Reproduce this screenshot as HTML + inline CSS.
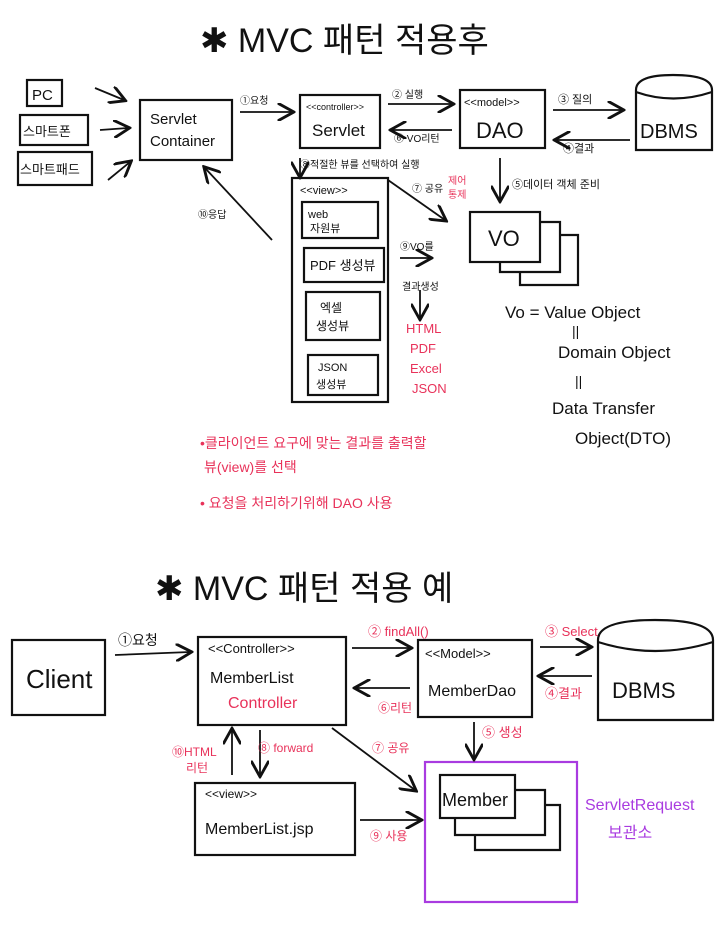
<!DOCTYPE html>
<html><head><meta charset="utf-8"><style>
html,body{margin:0;padding:0;background:#fff;}
svg{display:block;}
text{font-family:"Liberation Sans","Noto Sans CJK KR",sans-serif;fill:#111;}
.r{fill:#e8325a;}
.p{fill:#a93be0;}
</style></head><body>
<svg width="720" height="936" viewBox="0 0 720 936" xmlns="http://www.w3.org/2000/svg">
<defs><marker id="a" markerWidth="10" markerHeight="10" refX="8" refY="5" orient="auto"><path d="M0,0 L9,5 L0,10" fill="none" stroke="#111" stroke-width="1.6"/></marker></defs>
<g fill="none" stroke="#111" stroke-width="2.2">
<!-- top section boxes -->
<rect x="27" y="80" width="35" height="26"/>
<rect x="20" y="115" width="68" height="30"/>
<rect x="18" y="152" width="74" height="33"/>
<rect x="140" y="100" width="92" height="60"/>
<rect x="300" y="95" width="80" height="53"/>
<rect x="460" y="90" width="85" height="58"/>
<path d="M636,90 Q636,75 673,75 Q712,75 712,90 L712,150 L636,150 Z"/>
<path d="M636,92 Q673,105 712,92"/>
<rect x="292" y="178" width="96" height="224"/>
<rect x="302" y="202" width="76" height="36"/>
<rect x="304" y="248" width="80" height="34"/>
<rect x="306" y="292" width="74" height="48"/>
<rect x="308" y="355" width="70" height="40"/>
<path d="M500,262 L500,272 L560,272 L560,222 L540,222"/>
<path d="M520,272 L520,285 L578,285 L578,235 L560,235"/>
<rect x="470" y="212" width="70" height="50"/>
</g>
<g fill="none" stroke="#111" stroke-width="1.8" marker-end="url(#a)">
<line x1="95" y1="88" x2="124" y2="100"/>
<line x1="100" y1="130" x2="128" y2="128"/>
<line x1="108" y1="180" x2="130" y2="162"/>
<line x1="240" y1="112" x2="292" y2="112"/>
<line x1="388" y1="104" x2="452" y2="104"/>
<line x1="452" y1="130" x2="392" y2="130"/>
<line x1="553" y1="110" x2="622" y2="110"/>
<line x1="630" y1="140" x2="556" y2="140"/>
<line x1="300" y1="158" x2="300" y2="176"/>
<line x1="388" y1="180" x2="445" y2="220"/>
<line x1="500" y1="158" x2="500" y2="200"/>
<line x1="272" y1="240" x2="205" y2="168"/>
<line x1="400" y1="258" x2="430" y2="258"/>
<line x1="420" y1="290" x2="420" y2="318"/>
</g>
<text x="200" y="52" font-size="34">✱ MVC 패턴 적용후</text>
<text x="32" y="100" font-size="15">PC</text>
<text x="23" y="136" font-size="13">스마트폰</text>
<text x="20" y="174" font-size="13">스마트패드</text>
<text x="150" y="124" font-size="15">Servlet</text>
<text x="150" y="146" font-size="15">Container</text>
<text x="240" y="104" font-size="10">①요청</text>
<text x="306" y="110" font-size="9">&lt;&lt;controller&gt;&gt;</text>
<text x="312" y="136" font-size="17">Servlet</text>
<text x="392" y="98" font-size="10">② 실행</text>
<text x="394" y="142" font-size="10">⑥ VO리턴</text>
<text x="464" y="106" font-size="11">&lt;&lt;model&gt;&gt;</text>
<text x="476" y="138" font-size="22">DAO</text>
<text x="558" y="103" font-size="11">③ 질의</text>
<text x="563" y="152" font-size="11">④결과</text>
<text x="640" y="138" font-size="20">DBMS</text>
<text x="300" y="168" font-size="10">⑧적절한 뷰를 선택하여 실행</text>
<text x="448" y="184" font-size="10" class="r">제어</text>
<text x="448" y="198" font-size="10" class="r">통제</text>
<text x="412" y="192" font-size="10">⑦ 공유</text>
<text x="512" y="188" font-size="11">⑤데이터 객체 준비</text>
<text x="300" y="194" font-size="11">&lt;&lt;view&gt;&gt;</text>
<text x="308" y="218" font-size="11">web</text>
<text x="310" y="232" font-size="11">자원뷰</text>
<text x="310" y="270" font-size="13">PDF 생성뷰</text>
<text x="320" y="312" font-size="12">엑셀</text>
<text x="316" y="330" font-size="12">생성뷰</text>
<text x="318" y="371" font-size="11">JSON</text>
<text x="316" y="388" font-size="11">생성뷰</text>
<text x="488" y="246" font-size="22">VO</text>
<text x="198" y="218" font-size="10">⑩응답</text>
<text x="400" y="250" font-size="10">⑨VO를</text>
<text x="402" y="290" font-size="10">결과생성</text>
<text x="406" y="333" font-size="13" class="r">HTML</text>
<text x="410" y="353" font-size="13" class="r">PDF</text>
<text x="410" y="373" font-size="13" class="r">Excel</text>
<text x="412" y="393" font-size="13" class="r">JSON</text>
<text x="505" y="318" font-size="17">Vo = Value Object</text>
<text x="572" y="336" font-size="14">||</text>
<text x="558" y="358" font-size="17">Domain Object</text>
<text x="575" y="386" font-size="14">||</text>
<text x="552" y="414" font-size="17">Data Transfer</text>
<text x="575" y="444" font-size="17">Object(DTO)</text>
<text x="200" y="448" font-size="14" class="r">•클라이언트 요구에 맞는 결과를 출력할</text>
<text x="204" y="472" font-size="14" class="r">뷰(view)를 선택</text>
<text x="200" y="508" font-size="14" class="r">• 요청을 처리하기위해 DAO 사용</text>

<!-- bottom -->
<text x="155" y="600" font-size="34">✱ MVC 패턴 적용 예</text>
<g fill="none" stroke="#111" stroke-width="2.2">
<rect x="12" y="640" width="93" height="75"/>
<rect x="198" y="637" width="148" height="88"/>
<rect x="418" y="640" width="114" height="77"/>
<path d="M598,640 Q598,620 655,620 Q713,620 713,640 L713,720 L598,720 Z"/>
<path d="M598,642 Q655,660 713,642"/>
<rect x="195" y="783" width="160" height="72"/>
<path d="M455,818 L455,835 L545,835 L545,790 L515,790"/>
<path d="M475,835 L475,850 L560,850 L560,805 L545,805"/>
<rect x="440" y="775" width="75" height="43"/>
</g>
<rect x="425" y="762" width="152" height="140" fill="none" stroke="#a93be0" stroke-width="2.2"/>
<g fill="none" stroke="#111" stroke-width="1.8" marker-end="url(#a)">
<line x1="115" y1="655" x2="190" y2="652"/>
<line x1="352" y1="648" x2="410" y2="648"/>
<line x1="410" y1="688" x2="356" y2="688"/>
<line x1="540" y1="647" x2="590" y2="647"/>
<line x1="592" y1="676" x2="540" y2="676"/>
<line x1="232" y1="775" x2="232" y2="730"/>
<line x1="260" y1="730" x2="260" y2="775"/>
<line x1="332" y1="728" x2="415" y2="790"/>
<line x1="474" y1="722" x2="474" y2="758"/>
<line x1="360" y1="820" x2="420" y2="820"/>
</g>
<text x="26" y="688" font-size="26">Client</text>
<text x="118" y="645" font-size="14">①요청</text>
<text x="208" y="653" font-size="13">&lt;&lt;Controller&gt;&gt;</text>
<text x="210" y="683" font-size="16">MemberList</text>
<text x="228" y="708" font-size="16" class="r">Controller</text>
<text x="368" y="636" font-size="13" class="r">② findAll()</text>
<text x="378" y="712" font-size="12" class="r">⑥리턴</text>
<text x="425" y="658" font-size="13">&lt;&lt;Model&gt;&gt;</text>
<text x="428" y="696" font-size="16">MemberDao</text>
<text x="545" y="636" font-size="13" class="r">③ Select</text>
<text x="545" y="698" font-size="13" class="r">④결과</text>
<text x="612" y="698" font-size="22">DBMS</text>
<text x="482" y="737" font-size="13" class="r">⑤ 생성</text>
<text x="172" y="756" font-size="12" class="r">⑩HTML</text>
<text x="186" y="772" font-size="12" class="r">리턴</text>
<text x="258" y="752" font-size="12" class="r">⑧ forward</text>
<text x="372" y="752" font-size="12" class="r">⑦ 공유</text>
<text x="205" y="798" font-size="12">&lt;&lt;view&gt;&gt;</text>
<text x="205" y="834" font-size="16">MemberList.jsp</text>
<text x="370" y="840" font-size="12" class="r">⑨ 사용</text>
<text x="442" y="806" font-size="18">Member</text>
<text x="585" y="810" font-size="16" class="p">ServletRequest</text>
<text x="608" y="838" font-size="16" class="p">보관소</text>
</svg>
</body></html>
